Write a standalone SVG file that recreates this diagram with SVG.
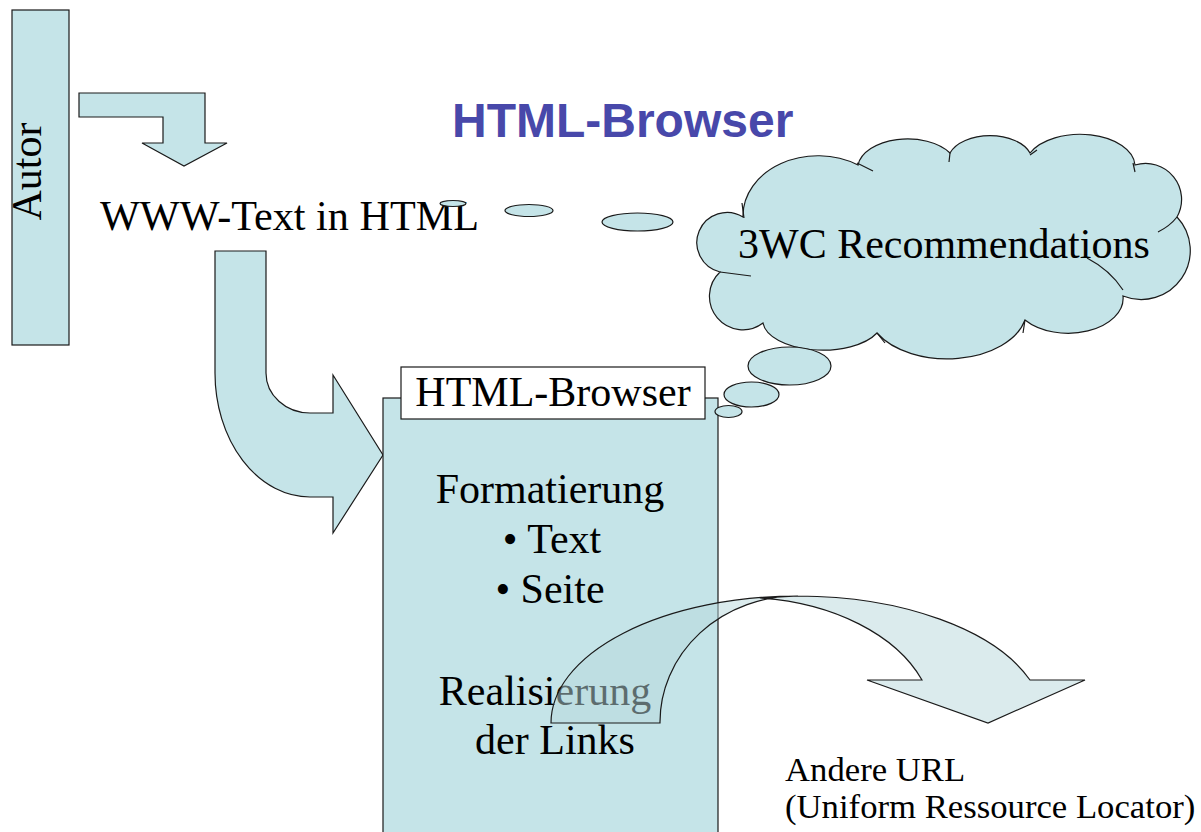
<svg xmlns="http://www.w3.org/2000/svg" width="1201" height="832" viewBox="0 0 1201 832">
<style>
.shape{fill:#c5e4e8;stroke:#1a1a1a;stroke-width:1.2}
.t{font-family:'Liberation Serif','Times New Roman',serif;font-size:42px;fill:#000}
.title{font-family:'Liberation Sans',Arial,sans-serif;font-weight:bold;font-size:48px;fill:#4848aa}
.stub{fill:none;stroke:#1a1a1a;stroke-width:1.2}
</style>
<rect width="1201" height="832" fill="#fff"/>
<g id="autor">
<rect class="shape" x="12" y="10" width="57" height="335"/>
<text class="t" transform="translate(41,171.5) rotate(-90)" text-anchor="middle">Autor</text>
</g>
<g id="title">
<text class="title" x="452" y="137">HTML-Browser</text>
</g>
<g id="connectors">
<polygon class="shape" points="79,93 205,93 205,143 227,143 184,166 142,143 163,143 163,117 79,117"/>
<path class="shape" d="M215,251 L266,251 L266,373 A44,40 0 0 0 310,413 L333,413 L333,375 L383,455 L333,533 L333,497 L310,497 A95,124 0 0 1 215,373 Z"/>
</g>
<g id="www-text">
<text class="t" x="100" y="230" textLength="379" lengthAdjust="spacingAndGlyphs">WWW-Text in HTML</text>
</g>
<g id="browser">
<rect class="shape" x="383" y="398" width="335" height="450"/>
<rect x="401" y="367" width="304" height="52" fill="#fff" stroke="#1a1a1a" stroke-width="1.2"/>
<text class="t" x="553" y="406" text-anchor="middle">HTML-Browser</text>
<text class="t" x="550" y="503" text-anchor="middle">Formatierung</text>
<text class="t" x="552" y="553" text-anchor="middle">• Text</text>
<text class="t" x="550" y="603" text-anchor="middle">• Seite</text>
<text class="t" x="545" y="705" text-anchor="middle">Realisierung</text>
<text class="t" x="555" y="754" text-anchor="middle">der Links</text>
</g>
<g id="cloud">
<path class="shape" d="M743,217 A75,60 0 0 1 858,165 A50,30 0 0 1 950,153 A42,25 0 0 1 1030,153 A55,32 0 0 1 1135,165 A36,36 0 0 1 1177,217 A49,49 0 0 1 1123,296 A55,35 0 0 1 1025,320 A80,50 0 0 1 877,333 A60,30 0 0 1 763,323 A33.4,33.4 0 0 1 720,272 A30.2,30.2 0 1 1 743,217 Z"/>
<path class="stub" d="M742,203 Q743,211 744,218 M857,163 L873,171 M950,153 L949,162 M1030,155 L1037,150 M1133,163 L1135,172 M1177,217 Q1170,226 1158,232 M1087,258 Q1110,270 1123,290 M1025,320 L1023,333 M877,333 L885,343 M720,272 L751,276"/>
<text class="t" x="738" y="258">3WC Recommendations</text>
</g>
<g id="bubbles">
<ellipse class="shape" cx="453" cy="203.5" rx="13" ry="3"/>
<ellipse class="shape" cx="529" cy="210.5" rx="24" ry="6"/>
<ellipse class="shape" cx="637.5" cy="222" rx="35.5" ry="9"/>
<ellipse class="shape" cx="789.5" cy="366" rx="41.5" ry="19"/>
<ellipse class="shape" cx="751.5" cy="394.5" rx="27.5" ry="12.5"/>
<ellipse class="shape" cx="728.5" cy="411.5" rx="13.5" ry="6"/>
</g>
<g id="link-arrow">
<path d="M551,723 A247,127 0 0 1 798,596 A137,126 0 0 0 660,723 Z M798,596 A247,127 0 0 1 1030,680 L1085,680 L988,723 L867,680 L922,680 A194,127 0 0 0 760,598 Z" fill="#b8d8dc" fill-opacity="0.5" stroke="#1a1a1a" stroke-width="1.2"/>
</g>
<g id="url">
<text class="t" style="font-size:34.7px" x="785" y="781">Andere URL</text>
<text class="t" style="font-size:34.7px" x="785" y="818">(Uniform Ressource Locator)</text>
</g>
</svg>
